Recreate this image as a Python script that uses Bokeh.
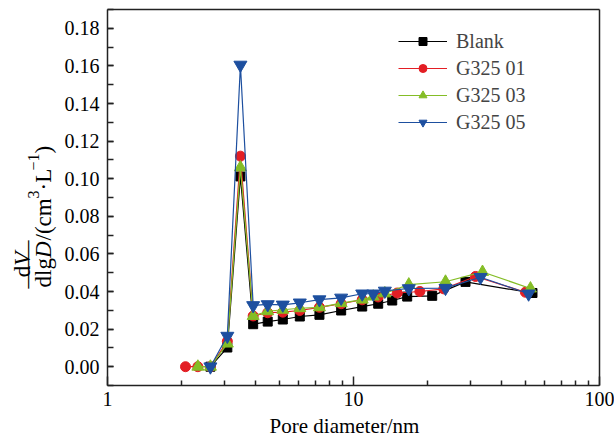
from math import pi
from bokeh.plotting import figure
from bokeh.models import (Range1d, FixedTicker, PrintfTickFormatter, Label,
                          Legend, LegendItem, LinearAxis, LogAxis)
from bokeh.embed import file_html
from bokeh.resources import INLINE

# ---- data ----
blank_x = [2.62, 3.07, 3.47, 3.91, 4.48, 5.16, 6.05, 7.27, 8.91, 10.85, 12.60, 14.37, 16.53, 20.89, 28.53, 53.4]
blank_y = [0.000, 0.0102, 0.1012, 0.0226, 0.0240, 0.0251, 0.0267, 0.0276, 0.0299, 0.0320, 0.0335, 0.0352, 0.0373, 0.0377, 0.0451, 0.0392]

g01_x = [2.075, 2.33, 2.62, 3.07, 3.47, 3.91, 4.48, 5.16, 6.05, 7.27, 8.91, 10.85, 12.60, 15.06, 18.61, 23.28, 31.33, 50.0]
g01_y = [0.000, 0.000, 0.000, 0.0135, 0.1120, 0.0270, 0.0287, 0.0290, 0.0299, 0.0316, 0.0335, 0.0356, 0.0371, 0.0392, 0.0400, 0.0414, 0.0480, 0.0396]

g03_x = [2.33, 2.62, 3.07, 3.47, 3.91, 4.48, 5.16, 6.05, 7.27, 8.91, 10.85, 12.03, 13.41, 16.78, 23.66, 33.45, 52.4]
g03_y = [0.000, 0.000, 0.0123, 0.1060, 0.0270, 0.0295, 0.0303, 0.0311, 0.0316, 0.0338, 0.0357, 0.0373, 0.0390, 0.0437, 0.0452, 0.0504, 0.0416]

g05_x = [2.62, 3.07, 3.47, 3.91, 4.48, 5.16, 6.05, 7.27, 8.91, 10.85, 12.03, 13.41, 16.78, 23.66, 32.83, 51.5]
g05_y = [0.000, 0.0163, 0.1605, 0.0326, 0.0331, 0.0329, 0.0340, 0.0357, 0.0366, 0.0388, 0.0388, 0.0403, 0.0416, 0.0418, 0.0476, 0.0388]

series_names = ["Blank", "G325 01", "G325 03", "G325 05"]
x_ticks = [1, 10, 100]
x_minor = [2, 3, 4, 5, 6, 7, 8, 9, 20, 30, 40, 50, 60, 70, 80, 90]
y_ticks = [0.00, 0.02, 0.04, 0.06, 0.08, 0.10, 0.12, 0.14, 0.16, 0.18]
y_minor = [round(-0.01 + 0.01 * i, 2) for i in range(21)]
x_lo, x_hi = 1, 100
y_lo, y_hi = -0.01, 0.19

FONT = "Liberation Serif"
W, H = 614, 438
FL, FR, FT, FB = 107, 599, 9, 385  # where the axes box sits on the canvas (px)

# the plotting frame covers the whole canvas; axes are pinned to the box
dec_px = (FR - FL) / 2.0
unit_px = (FB - FT) / (y_hi - y_lo)
xr = Range1d(10 ** (-FL / dec_px), 10 ** ((W - FL) / dec_px))
yr = Range1d(y_lo - (H - FB) / unit_px, y_hi + FT / unit_px)

p = figure(width=W, height=H, x_axis_type="log", x_range=xr, y_range=yr,
           output_backend="svg", toolbar_location=None, min_border=0)
p.background_fill_color = "white"
p.border_fill_color = "white"
p.outline_line_color = None
p.xgrid.visible = False
p.ygrid.visible = False

xa = p.below[0]
ya = p.left[0]
xa.fixed_location = y_lo
ya.fixed_location = x_lo
xa.bounds = (x_lo, x_hi)
ya.bounds = (y_lo, y_hi)
xa.ticker = FixedTicker(ticks=x_ticks, minor_ticks=x_minor)
ya.ticker = FixedTicker(ticks=y_ticks, minor_ticks=y_minor)
xa.formatter = PrintfTickFormatter(format="%d")
ya.formatter = PrintfTickFormatter(format="%.2f")

top = LogAxis(fixed_location=y_hi, bounds=(x_lo, x_hi),
              ticker=FixedTicker(ticks=[], minor_ticks=[]))
right = LinearAxis(fixed_location=x_hi, bounds=(y_lo, y_hi),
                   ticker=FixedTicker(ticks=[], minor_ticks=[]))
p.add_layout(top, "above")
p.add_layout(right, "right")

for ax in (xa, ya, top, right):
    ax.axis_line_color = "#222222"
    ax.axis_line_width = 1.5
    ax.major_tick_line_color = "#222222"
    ax.minor_tick_line_color = "#222222"
    ax.major_tick_line_width = 1.5
    ax.minor_tick_line_width = 1.5
    ax.major_tick_out = 0
    ax.minor_tick_out = 0
    ax.major_label_text_font = FONT
    ax.major_label_text_font_size = "20px"
    ax.major_label_text_color = "black"
xa.major_tick_in = 9
xa.minor_tick_in = 5
xa.major_label_standoff = 6
ya.major_tick_in = 6
ya.minor_tick_in = 6
ya.major_label_standoff = 8

colors = ["#000000", "#e31e24", "#84bd26", "#1d4f9f"]
markers = ["square", "circle", "triangle", "inverted_triangle"]
sizes = [9, 10, 12, 13]
data = [(blank_x, blank_y), (g01_x, g01_y), (g03_x, g03_y), (g05_x, g05_y)]

items = []
for (xs, ys), name, c, m, s in zip(data, series_names, colors, markers, sizes):
    lr = p.line(xs, ys, line_color=c, line_width=1.2)
    sr = p.scatter(xs, ys, marker=m, size=s, fill_color=c, line_color=c)
    items.append(LegendItem(label=name, renderers=[lr, sr]))

legend = Legend(items=items, location=(398, H - 133.5),
                glyph_width=49, glyph_height=20, label_height=20,
                label_standoff=9, spacing=4, padding=0, margin=0,
                border_line_alpha=0, background_fill_alpha=0,
                label_text_font=FONT, label_text_font_size="20px")
p.add_layout(legend)


def lab(text, X, Y, size, style="normal", angle=pi / 2, align="left", baseline="alphabetic"):
    p.add_layout(Label(x=X, y=H - Y, x_units="screen", y_units="screen",
                       text=text, angle=angle, text_font=FONT,
                       text_font_size=f"{size}px", text_font_style=style,
                       text_align=align, text_baseline=baseline, text_color="black"))


# y-axis label: dV / dlgD /(cm^3·L^-1), rotated
dy = 8
lab("dlg", 43, 279.0 + dy, 23)
lab("D", 43, 249.6 + dy, 23, "italic")
lab("d", 22, 268.8 + dy, 23)
lab("V", 22, 257.3 + dy, 23, "italic")
lab("\u2014\u2014", 25, 256.0 + dy, 24, align="center", baseline="middle")
lab("/(cm", 43, 232.0 + dy, 23)
lab("3", 33, 189.9 + dy, 16)
lab("\u00b7L", 43, 181.9 + dy, 23)
lab("\u22121", 33, 162.1 + dy, 16)
lab(")", 43, 145.1 + dy, 23)

# x-axis label
lab("Pore diameter/nm", 344, 425, 21, angle=0, align="center", baseline="middle")

open("out.html", "w").write(file_html(p, INLINE))
